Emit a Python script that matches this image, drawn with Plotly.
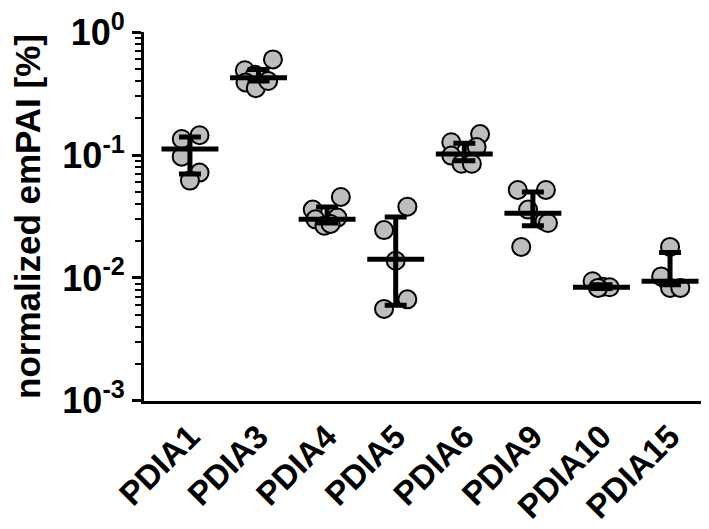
import plotly.graph_objects as go

categories = ["PDIA1", "PDIA3", "PDIA4", "PDIA5", "PDIA6", "PDIA9", "PDIA10", "PDIA15"]

# individual replicate values (normalized emPAI, %)
pdia1 = [0.135, 0.145, 0.097, 0.072, 0.062]
pdia3 = [0.60, 0.49, 0.45, 0.39, 0.35, 0.40]
pdia4 = [0.0456, 0.036, 0.030, 0.031, 0.0266, 0.0275]
pdia5 = [0.038, 0.0245, 0.0138, 0.0067, 0.0056]
pdia6 = [0.148, 0.127, 0.116, 0.099, 0.085, 0.085]
pdia9 = [0.052, 0.052, 0.036, 0.029, 0.028, 0.0179]
pdia10 = [0.0094, 0.0085, 0.0084, 0.0083]
pdia15 = [0.0179, 0.0103, 0.0083, 0.0083]

# horizontal scatter of dots (category units) as seen in the picture
jit1 = [-0.12, 0.14, -0.12, 0.14, 0.0]
jit3 = [0.21, -0.20, -0.05, -0.19, -0.04, 0.14]
jit4 = [0.20, -0.21, -0.17, 0.15, -0.04, 0.05]
jit5 = [0.17, -0.17, 0.0, 0.17, -0.17]
jit6 = [0.23, -0.19, 0.18, -0.19, -0.04, 0.11]
jit9 = [-0.22, 0.19, -0.07, 0.17, 0.22, -0.17]
jit10 = [-0.13, 0.02, 0.12, -0.05]
jit15 = [0.0, -0.13, 0.0, 0.15]

# summary line and whisker ends
centers = [0.112, 0.426, 0.030, 0.0142, 0.102, 0.0336, 0.0084, 0.0094]
upper = [0.140, 0.497, 0.0378, 0.0314, 0.125, 0.050, 0.0088, 0.0161]
lower = [0.070, 0.400, 0.0280, 0.0060, 0.090, 0.0266, 0.0082, 0.0088]

groups = [pdia1, pdia3, pdia4, pdia5, pdia6, pdia9, pdia10, pdia15]
jits = [jit1, jit3, jit4, jit5, jit6, jit9, jit10, jit15]

FONT = "Liberation Sans, Arial, Helvetica, sans-serif"

fig = go.Figure()

px_, py_ = [], []
for i, (vals, jit) in enumerate(zip(groups, jits)):
    for v, j in zip(vals, jit):
        px_.append(i + j)
        py_.append(v)

fig.add_trace(go.Scatter(
    x=px_, y=py_, mode="markers",
    marker=dict(size=18, color="#bdbdbd", line=dict(color="black", width=2)),
    showlegend=False, hoverinfo="y"))

# error bars
fig.add_trace(go.Scatter(
    x=list(range(len(categories))), y=centers, mode="markers",
    marker=dict(size=1, color="rgba(0,0,0,0)"),
    error_y=dict(type="data", symmetric=False,
                 array=[u - c for u, c in zip(upper, centers)],
                 arrayminus=[c - l for c, l in zip(centers, lower)],
                 color="black", thickness=5, width=11),
    showlegend=False, hoverinfo="skip"))

# mean lines
hw = 0.415
lx, ly = [], []
for i, c in enumerate(centers):
    lx += [i - hw, i + hw, None]
    ly += [c, c, None]
fig.add_trace(go.Scatter(x=lx, y=ly, mode="lines",
                         line=dict(color="black", width=5),
                         showlegend=False, hoverinfo="skip"))

minor_vals = [m * 10 ** e for e in (-3, -2, -1) for m in range(2, 10)]

fig.update_layout(
    width=709, height=529,
    margin=dict(l=136, r=1, t=24, b=136),
    plot_bgcolor="white", paper_bgcolor="white",
    font=dict(family=FONT, color="black"),
    xaxis=dict(
        range=[-0.67, 7.67], tickmode="array", automargin=False,
        tickvals=list(range(len(categories))), ticktext=categories,
        tickangle=-45, ticks="", showgrid=False, zeroline=False,
        showline=True, linecolor="black", linewidth=3,
        tickfont=dict(size=33, family=FONT, weight="bold"),
    ),
    yaxis=dict(
        type="log", range=[-3.001, 0.001], automargin=False,
        tickmode="array", tickvals=[0.001, 0.01, 0.1, 1],
        ticktext=["10<sup>-3</sup>", "10<sup>-2</sup>", "10<sup>-1</sup>", "10<sup>0</sup>"],
        ticks="outside", ticklen=9, tickwidth=2.5, tickcolor="black",
        ticklabeloverflow="allow",
        minor=dict(tickmode="array", tickvals=minor_vals, ticks="outside",
                   ticklen=6, tickwidth=2, tickcolor="black", showgrid=False),
        showgrid=False, zeroline=False,
        showline=True, linecolor="black", linewidth=3,
        tickfont=dict(size=36, family=FONT, weight="bold"),
        title=dict(text="normalized emPAI [%]", standoff=12,
                   font=dict(size=35, family=FONT, weight="bold")),
    ),
)

fig.write_html("out.html")
